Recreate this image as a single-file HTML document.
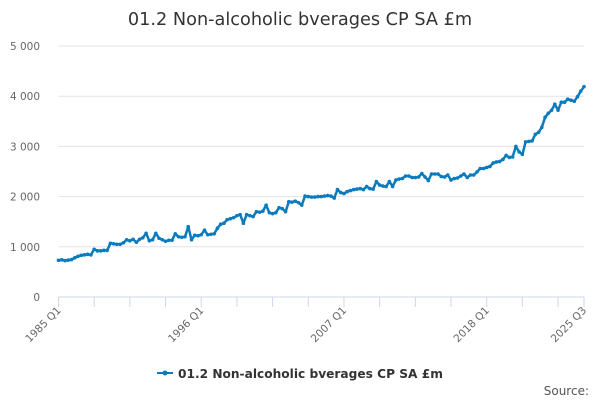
<!DOCTYPE html>
<html><head><meta charset="utf-8"><style>
body{margin:0;background:#fff;font-family:"DejaVu Sans","Liberation Sans",sans-serif}
svg{display:block;font-family:"DejaVu Sans","Liberation Sans",sans-serif}
</style></head><body>
<svg id="chart" width="600" height="400">
<text x="300" y="25" text-anchor="middle" font-size="17.7" fill="#333">01.2 Non-alcoholic bverages CP SA £m</text>
<g id="grid"></g><g id="xaxis"></g><g id="series"></g>
<g>
<line x1="157" y1="373" x2="173" y2="373" stroke="#0a7bbd" stroke-width="2"/>
<circle cx="165" cy="373" r="2.5" fill="#0a7bbd"/>
<text x="178" y="378" font-size="12.2" font-weight="bold" fill="#333">01.2 Non-alcoholic bverages CP SA £m</text>
</g>
<text x="589" y="395" text-anchor="end" font-size="12" fill="#555">Source:</text>
</svg>
<script>
const values = [730,740,725,735,745,780,810,830,840,850,840,950,920,920,930,930,1070,1060,1050,1050,1080,1140,1120,1150,1090,1150,1180,1270,1120,1140,1270,1170,1140,1110,1130,1130,1260,1200,1190,1200,1400,1140,1230,1220,1240,1330,1240,1250,1260,1370,1450,1470,1540,1560,1580,1620,1640,1470,1640,1620,1600,1700,1690,1710,1830,1680,1660,1680,1780,1760,1700,1900,1890,1910,1880,1830,2010,2000,1990,1990,
2000,2000,2010,2020,2010,1970,2140,2080,2060,2100,2120,2140,2150,2160,2140,2200,2160,2150,2300,2230,2210,2200,2300,2200,2330,2350,2360,2410,2410,2380,2380,2390,2460,2390,2320,2450,2450,2450,2400,2390,2430,2330,2360,2370,2410,2450,2380,2430,2430,2490,2560,2560,2580,2600,2670,2690,2700,2740,2820,2780,2790,3000,2890,2840,3090,3100,3110,3240,3280,3380,3580,3660,3720,3840,3720,3880,3880,3940,3920,3900,3990,4100,4190];
const yTicks = [0,1000,2000,3000,4000,5000];
const yTickLabels = ["0","1 000","2 000","3 000","4 000","5 000"];
const xLabelIdx = [0,44,88,132,162];
const xLabels = ["1985 Q1","1996 Q1","2007 Q1","2018 Q1","2025 Q3"];
const NS="http://www.w3.org/2000/svg";
const x0=58.5,x1=584,y0=297,yTop=46;
const n=values.length;
const X=i=>x0+i*(x1-x0)/(n-1);
const Y=v=>y0-(v/5000)*(y0-yTop);
function mk(t,a,p){const e=document.createElementNS(NS,t);for(const k in a)e.setAttribute(k,a[k]);p.appendChild(e);return e;}
const grid=document.getElementById('grid');
yTicks.forEach((v,k)=>{
  if(v>0){const l=mk('line',{x1:x0,x2:x1,y1:Y(v),y2:Y(v),stroke:'#e3e3e3','stroke-width':1},grid);
  
  }
  const t=mk('text',{x:40,y:Y(v)+4,'text-anchor':'end','font-size':10.5,fill:'#666'},grid);
  t.textContent=yTickLabels[k];
  
  
});
const xa=document.getElementById('xaxis');
const ax=mk('line',{x1:x0,x2:x1,y1:y0,y2:y0,stroke:'#ccd6eb','stroke-width':1},xa);


for(let i=0;i<n;i+=11){const tk=mk('line',{x1:X(i),x2:X(i),y1:y0,y2:y0+10,stroke:'#ccd6eb'},xa);

}
const lt=mk('line',{x1:X(n-1),x2:X(n-1),y1:y0,y2:y0+10,stroke:'#ccd6eb'},xa);


xLabelIdx.forEach((i,k)=>{
  const t=mk('text',{x:X(i)+3,y:y0+14,'text-anchor':'end','font-size':10.5,fill:'#666',transform:`rotate(-45 ${X(i)+3} ${y0+14})`},xa);
  t.textContent=xLabels[k];
  
  
});
const s=document.getElementById('series');
const pts=values.map((v,i)=>X(i).toFixed(1)+','+Y(v).toFixed(1)).join(' ');
const pl=mk('polyline',{points:pts,fill:'none',stroke:'#0a7bbd','stroke-width':2.5,'stroke-linejoin':'round'},s);


values.forEach((v,i)=>{const c=mk('circle',{cx:X(i),cy:Y(v),r:1.8,fill:'#0a7bbd'},s);

});
</script>
</body></html>
